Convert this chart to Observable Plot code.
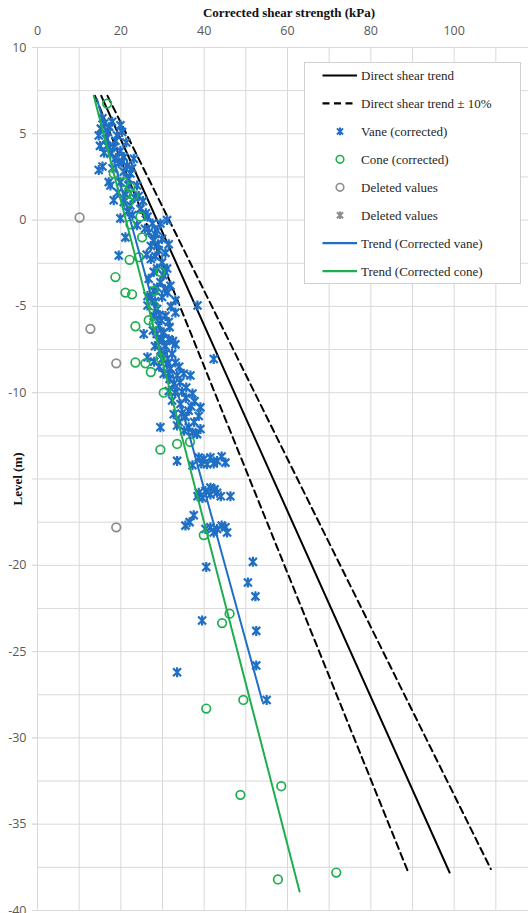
<!DOCTYPE html>
<html><head><meta charset="utf-8">
<script src="https://cdn.jsdelivr.net/npm/d3@7"></script>
<script src="https://cdn.jsdelivr.net/npm/@observablehq/plot@0.6"></script>
<style>
html,body{margin:0;padding:0;background:#fff;}
#wrap{position:relative;width:528px;height:913px;overflow:hidden;background:#fff;}
#title{position:absolute;left:0;width:578px;top:5px;line-height:16px;text-align:center;font:bold 13px "Liberation Serif","DejaVu Serif",serif;color:#111;}
#ylab{position:absolute;left:18px;top:479px;transform:translate(-50%,-50%) rotate(-90deg);font:bold 13px "Liberation Serif","DejaVu Serif",serif;white-space:nowrap;color:#111;}
#legend{position:absolute;left:304px;top:62px;}
</style></head><body>
<div id="wrap"><div id="chart"></div><div id="title">Corrected shear strength (kPa)</div><div id="ylab">Level (m)</div><svg id="legend" width="217" height="222"></svg></div>
<script>
// ---- data: [shear strength kPa, level m] ----
const directShear = [[15.3, 7.2], [98.9, -37.8]];
const directShearLower = [[13.8, 7.2], [89.0, -37.8]];
const directShearUpper = [[16.8, 7.2], [108.8, -37.6]];
const trendVane = [[14.3, 7.0], [54.0, -27.9]];
const trendCone = [[13.5, 7.2], [62.9, -38.9]];

const vane = [
 [15.6,5.9],[15.2,5.3],[16.0,5.6],[17.9,5.7],[19.9,5.5],[20.3,5.1],[19.1,4.9],[16.4,4.7],[14.7,4.9],[16.7,4.3],
 [18.3,4.2],[19.9,4.0],[16.0,3.9],[17.5,3.85],[20.7,3.65],[23.1,3.55],[19.5,3.3],[21.5,3.15],[15.6,3.1],[14.7,2.9],
 [20.7,2.8],[22.3,2.7],[17.1,2.2],[17.5,2.0],[19.9,2.2],[21.9,2.0],[23.9,2.0],[18.3,1.15],[20.7,1.05],[22.3,0.85],
 [24.7,0.65],[19.9,0.1],[26.4,0.2],[27.6,-0.2],[29.5,-0.2],[31.1,0.0],[23.9,-0.3],
 [16.9,5.1],[18.7,4.6],[21.3,4.5],[18.8,3.6],[21.8,2.4],[23.3,1.3],[25.3,1.1],[22.8,0.3],[25.8,-0.5],[28.2,-0.8],
 [17.2,5.4],[15.0,4.3],[18.0,3.0],[20.3,3.4],[22.7,3.0],[19.3,1.6],[21.2,1.5],[24.3,1.4],[26.0,0.4],[21.6,0.5],
 [21.1,-1.0],[19.5,-2.05],[26.7,-0.7],[28.7,-0.6],[29.9,-1.1],[27.2,-1.5],[29.1,-1.75],[27.2,-2.25],[29.9,-2.45],[31.1,-2.8],
 [27.9,-3.0],[26.7,-3.4],[29.5,-3.6],[31.9,-3.8],[27.9,-4.1],[26.4,-4.4],[29.9,-4.45],[33.1,-4.65],[38.4,-4.95],[26.4,-4.95],
 [28.7,-5.15],[27.9,-5.55],[30.7,-5.55],[33.1,-5.35],[25.5,-6.6],[29.1,-6.1],[30.3,-6.5],[29.1,-7.0],[31.5,-6.9],[33.1,-7.2],
 [29.5,-7.55],[32.3,-7.75],[26.4,-7.95],[29.9,-8.05],[33.1,-8.25],[31.9,-8.6],[42.3,-8.05],
 [27.8,-1.2],[30.7,-1.9],[28.7,-2.8],[30.2,-3.2],[31.2,-4.2],[28.2,-4.7],[29.7,-5.8],[31.7,-6.2],[27.7,-6.4],[30.7,-7.3],
 [28.2,-7.3],[31.2,-8.3],[29.2,-8.5],
 [28.9,-1.4],[31.5,-1.4],[26.2,-2.0],[28.3,-2.1],[30.6,-3.0],[28.7,-3.9],[30.6,-4.0],[27.3,-4.5],[32.0,-5.0],[29.3,-5.5],
 [31.5,-5.9],[28.6,-6.6],[30.0,-6.9],[32.5,-7.0],[30.4,-7.8],[28.0,-8.2],[31.5,-8.9],[34.0,-8.5],
 [31.1,-8.35],[30.3,-8.9],[33.5,-9.0],[35.1,-8.9],[36.7,-9.0],[32.7,-9.5],[34.7,-9.95],[37.2,-10.05],[32.3,-10.45],[34.3,-10.65],
 [39.1,-10.85],[36.3,-11.05],[32.7,-11.25],[35.5,-11.4],[38.7,-11.35],[29.5,-12.0],[33.5,-11.9],[36.3,-12.0],[39.1,-12.1],[37.2,-12.3],
 [31.7,-9.2],[34.2,-9.4],[35.7,-9.7],[31.5,-9.9],[37.7,-10.5],[33.9,-11.7],
 [33.0,-10.0],[35.6,-10.3],[36.9,-10.8],[34.6,-11.2],[37.6,-11.7],[35.2,-12.2],[38.3,-12.4],
 [33.5,-13.95],[37.2,-14.2],[38.7,-13.75],[39.9,-13.85],[41.5,-13.75],[43.1,-13.95],[45.1,-14.05],[40.7,-14.15],
 [42.3,-14.1],[44.2,-13.7],[39.3,-14.1],
 [38.7,-15.8],[40.3,-15.7],[41.5,-15.9],[43.1,-15.8],[41.5,-15.5],[46.3,-16.0],[38.4,-16.0],
 [42.5,-15.6],[39.6,-16.1],[44.0,-16.0],
 [37.5,-17.1],[35.5,-17.7],[41.5,-17.8],[43.1,-17.9],[45.1,-17.8],[45.5,-18.1],[40.3,-17.9],
 [42.3,-18.1],[44.2,-17.7],[36.5,-17.5],
 [40.5,-20.1],[51.7,-19.8],[50.5,-21.0],[52.3,-21.8],[39.5,-23.2],[52.5,-23.8],[52.5,-25.8],[33.5,-26.2],[55.0,-27.8]
];

const cone = [
 [16.7,6.75],[18.3,2.7],[20.7,2.2],[22.3,1.9],[21.5,1.55],[23.1,1.45],[21.9,1.05],[24.7,0.2],[22.3,-0.25],[25.1,-1.0],
 [24.3,-2.15],[22.1,-2.3],[18.7,-3.3],[29.5,-3.0],[27.9,-4.1],[21.1,-4.2],[22.7,-4.3],[27.9,-4.95],[23.5,-6.15],[26.7,-5.8],
 [27.9,-6.0],[23.5,-8.25],[25.9,-8.3],[27.2,-8.8],[29.5,-8.0],[30.3,-10.0],[29.5,-13.3],[33.5,-12.97],[36.6,-12.85],[39.9,-18.25],
 [46.1,-22.8],[44.3,-23.35],[49.4,-27.8],[40.5,-28.3],[58.5,-32.8],[48.7,-33.3],[57.7,-38.2],[71.7,-37.8]
];

const deletedCircles = [[10.1,0.15],[12.7,-6.3],[18.9,-8.3],[18.9,-17.8]];
const deletedStars = [];

const xTickValues = [0, 20, 40, 60, 80, 100, 120];
const xGridValues = [0, 10, 20, 30, 40, 50, 60, 70, 80, 90, 100, 110, 120];
const yTickValues = [10, 5, 0, -5, -10, -15, -20, -25, -30, -35, -40];
const yLabelValues = [10, 5, 0, -5, -10, -20, -25, -30, -35, -40];
const yGridValues = d3.range(-40, 10.1, 2.5);

const legendLabels = ["Direct shear trend", "Direct shear trend \u00b1 10%", "Vane (corrected)", "Cone (corrected)",
  "Deleted values", "Deleted values", "Trend (Corrected vane)", "Trend (Corrected cone)"];

// ---- styles ----
const blue = "#1f6fc4", green = "#1fae4f", gray = "#8c8c8c", gridColor = "#d9d9d9";
const star = {draw(ctx, size) {
  const r = Math.sqrt(size / Math.PI), d = r * 0.8;
  ctx.moveTo(0, -r); ctx.lineTo(0, r);
  ctx.moveTo(-d, -d); ctx.lineTo(d, d);
  ctx.moveTo(-d, d); ctx.lineTo(d, -d);
}};
const rows = arr => arr.map(([su, level]) => ({su, level}));
const xy = {x: "su", y: "level"};

const chart = Plot.plot({
  width: 528, height: 913,
  marginTop: 47, marginBottom: 3, marginLeft: 37, marginRight: 0,
  style: {fontFamily: '"Open Sans", "Liberation Sans", sans-serif', fontSize: "12.5px", background: "#fff", overflow: "hidden"},
  x: {domain: [0, 120], range: [37, 537]},
  y: {domain: [-40, 10], range: [910, 47]},
  marks: [
    Plot.gridX(xGridValues, {stroke: gridColor, strokeOpacity: 1, strokeWidth: 1}),
    Plot.gridY(yGridValues, {stroke: gridColor, strokeOpacity: 1, strokeWidth: 1}),
    Plot.axisX(xTickValues, {anchor: "top", tickSize: 0, tickPadding: 13, fill: "#595959", label: null, tickFormat: d => String(d)}),
    Plot.axisY(yTickValues, {anchor: "left", tickSize: 5, stroke: gridColor, text: null, label: null}),
    Plot.axisY(yLabelValues, {anchor: "left", tickSize: 5, tickPadding: 6, stroke: gridColor, fill: "#595959", label: null, tickFormat: d => String(d)}),
    Plot.line(rows(directShear), {...xy, stroke: "#000", strokeWidth: 2}),
    Plot.line(rows(directShearLower), {...xy, stroke: "#000", strokeWidth: 2, strokeDasharray: "7,4.5"}),
    Plot.line(rows(directShearUpper), {...xy, stroke: "#000", strokeWidth: 2, strokeDasharray: "7,4.5"}),
    Plot.dot(rows(vane), {...xy, symbol: star, r: 5, fill: "none", stroke: blue, strokeWidth: 2.2}),
    Plot.dot(rows(cone), {...xy, r: 4.3, fill: "none", stroke: green, strokeWidth: 1.7}),
    Plot.dot(rows(deletedCircles), {...xy, r: 4.3, fill: "none", stroke: gray, strokeWidth: 1.7}),
    Plot.dot(rows(deletedStars), {...xy, symbol: star, r: 5, fill: "none", stroke: gray, strokeWidth: 2.2}),
    Plot.line(rows(trendVane), {...xy, stroke: blue, strokeWidth: 2}),
    Plot.line(rows(trendCone), {...xy, stroke: green, strokeWidth: 2})
  ]
});
document.getElementById("chart").appendChild(chart);

// ---- legend ----
const kinds = ["line", "dash", "star", "circle", "grayCircle", "grayStar", "blueLine", "greenLine"];
const lg = d3.select("#legend");
lg.append("rect").attr("x", 0.5).attr("y", 0.5).attr("width", 216).attr("height", 221)
  .attr("fill", "#fff").attr("stroke", "#d0d0d0");
legendLabels.forEach((label, i) => {
  const cy = 13.5 + i * 27.95;
  const g = lg.append("g");
  const k = kinds[i];
  if (k === "line" || k === "dash" || k === "blueLine" || k === "greenLine") {
    g.append("line").attr("x1", 18.5).attr("x2", 53).attr("y1", cy).attr("y2", cy)
      .attr("stroke", k === "blueLine" ? blue : k === "greenLine" ? green : "#000")
      .attr("stroke-width", 2.2).attr("stroke-dasharray", k === "dash" ? "7,4.5" : null);
  } else if (k === "star" || k === "grayStar") {
    g.append("path").attr("transform", `translate(36,${cy})`)
      .attr("d", d3.symbol(star, Math.PI * 3.8 * 3.8)())
      .attr("fill", "none").attr("stroke", k === "star" ? blue : gray).attr("stroke-width", 2);
  } else {
    g.append("circle").attr("cx", 36).attr("cy", cy).attr("r", 3.8)
      .attr("fill", "none").attr("stroke", k === "circle" ? green : gray).attr("stroke-width", 1.6);
  }
  g.append("text").attr("x", 57).attr("y", cy).attr("dy", "0.35em")
    .attr("font-family", '"Liberation Serif", "DejaVu Serif", serif').attr("font-size", 13)
    .attr("fill", "#262626").text(label);
});
</script>
</body></html>
